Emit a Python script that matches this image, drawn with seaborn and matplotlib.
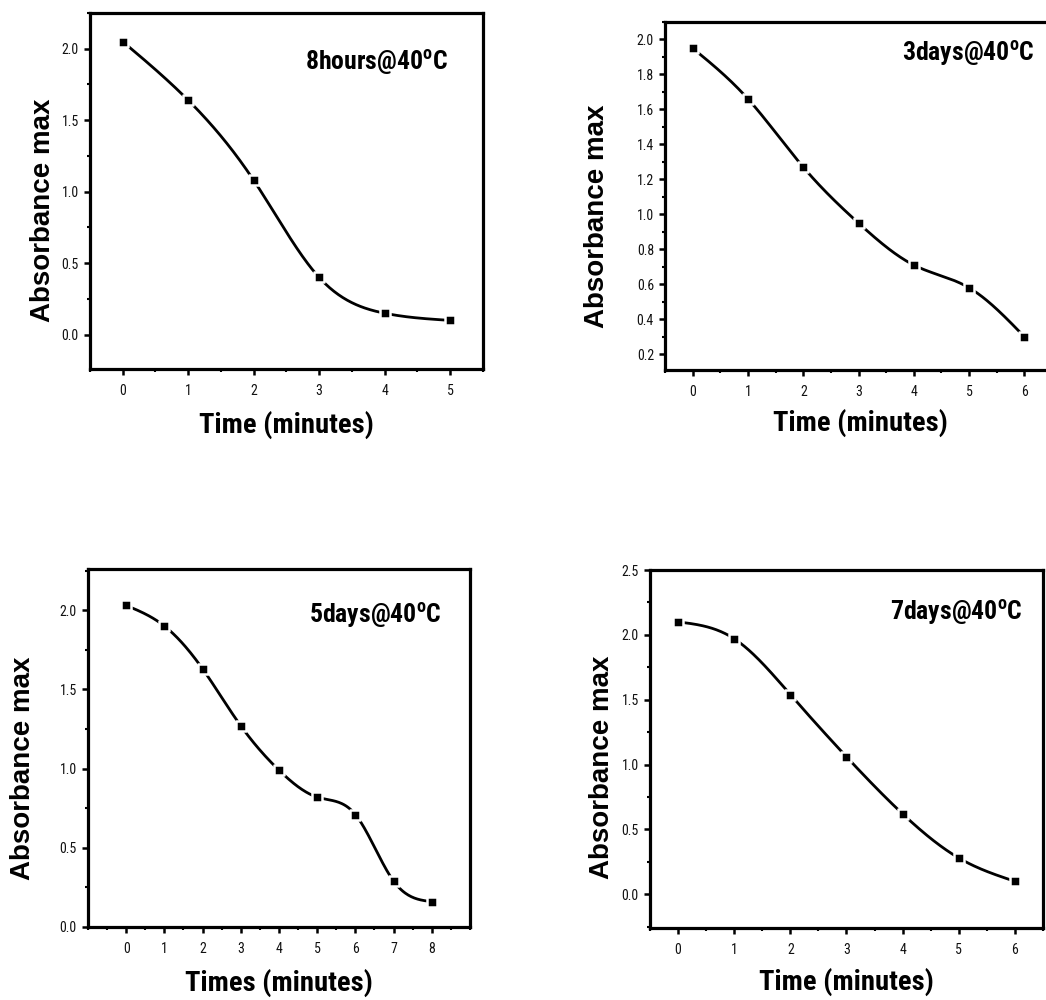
import numpy as np
import pandas as pd
import matplotlib
matplotlib.use("Agg")
import matplotlib.pyplot as plt
from matplotlib.ticker import MultipleLocator
import seaborn as sns

# Absorbance maxima versus time for each storage condition
time_8h = [0, 1, 2, 3, 4, 5]
abs_8h = [2.05, 1.64, 1.08, 0.40, 0.15, 0.10]

time_3d = [0, 1, 2, 3, 4, 5, 6]
abs_3d = [1.95, 1.66, 1.27, 0.95, 0.71, 0.58, 0.30]

time_5d = [0, 1, 2, 3, 4, 5, 6, 7, 8]
abs_5d = [2.03, 1.90, 1.63, 1.27, 0.99, 0.82, 0.71, 0.29, 0.16]

time_7d = [0, 1, 2, 3, 4, 5, 6]
abs_7d = [2.10, 1.97, 1.54, 1.06, 0.62, 0.28, 0.10]

titles = ["8hours@40", "3days@40", "5days@40", "7days@40"]
xlabels = ["Time (minutes)", "Time (minutes)", "Times (minutes)", "Time (minutes)"]
ylabel = "Absorbance max"

sns.set_theme(style="white")
narrow = ["Liberation Sans Narrow", "Roboto Condensed", "Liberation Sans", "DejaVu Sans"]
plt.rcParams["font.family"] = narrow
plt.rcParams["mathtext.fontset"] = "custom"
plt.rcParams["mathtext.bf"] = "Roboto Condensed:bold"
plt.rcParams["mathtext.rm"] = "Roboto Condensed"
plt.rcParams["text.color"] = "black"
plt.rcParams["axes.labelcolor"] = "black"
plt.rcParams["xtick.color"] = "black"
plt.rcParams["ytick.color"] = "black"


def natural_spline(x, y, n=300):
    """Natural cubic spline through (x, y) for a smooth connecting line."""
    x = np.asarray(x, float)
    y = np.asarray(y, float)
    m = len(x)
    h = np.diff(x)
    A = np.zeros((m, m))
    b = np.zeros(m)
    A[0, 0] = A[-1, -1] = 1.0
    for i in range(1, m - 1):
        A[i, i - 1] = h[i - 1]
        A[i, i] = 2 * (h[i - 1] + h[i])
        A[i, i + 1] = h[i]
        b[i] = 6 * ((y[i + 1] - y[i]) / h[i] - (y[i] - y[i - 1]) / h[i - 1])
    M = np.linalg.solve(A, b)
    xs = np.linspace(x[0], x[-1], n)
    idx = np.clip(np.searchsorted(x, xs) - 1, 0, m - 2)
    x0, x1 = x[idx], x[idx + 1]
    hh = x1 - x0
    t0 = x1 - xs
    t1 = xs - x0
    ys = (M[idx] * t0 ** 3 / (6 * hh) + M[idx + 1] * t1 ** 3 / (6 * hh)
          + (y[idx] / hh - M[idx] * hh / 6) * t0
          + (y[idx + 1] / hh - M[idx + 1] * hh / 6) * t1)
    return xs, ys


fig = plt.figure(figsize=(10.46, 10.0), dpi=100)

panels = [
    dict(rect=[0.0860, 0.631, 0.3757, 0.356], x=time_8h, y=abs_8h,
         xlim=(-0.5, 5.5), ylim=(-0.24, 2.25), ymaj=0.5, ymin=0.25,
         fmt="{:.1f}", title_pos=(0.911, 0.862), ylab=(-0.12, 0.447), xlab=(0.501, -0.157)),
    dict(rect=[0.6358, 0.630, 0.370, 0.348], x=time_3d, y=abs_3d,
         xlim=(-0.5, 6.5), ylim=(0.11, 2.10), ymaj=0.2, ymin=0.1,
         fmt="{:.1f}", title_pos=(0.956, 0.911), ylab=(-0.176, 0.443), xlab=(0.504, -0.152)),
    dict(rect=[0.0841, 0.073, 0.3652, 0.358], x=time_5d, y=abs_5d,
         xlim=(-1.0, 9.0), ylim=(0.0, 2.26), ymaj=0.5, ymin=0.25,
         fmt="{:.1f}", title_pos=(0.927, 0.872), ylab=(-0.170, 0.444), xlab=(0.50, -0.156)),
    dict(rect=[0.6214, 0.072, 0.3757, 0.358], x=time_7d, y=abs_7d,
         xlim=(-0.5, 6.5), ylim=(-0.26, 2.5), ymaj=0.5, ymin=0.25,
         fmt="{:.1f}", title_pos=(0.947, 0.883), ylab=(-0.122, 0.45), xlab=(0.499, -0.151)),
]

for p, title, xl in zip(panels, titles, xlabels):
    ax = fig.add_axes(p["rect"])
    xs, ys = natural_spline(p["x"], p["y"])
    curve = pd.DataFrame({"t": xs, "a": ys})
    pts = pd.DataFrame({"t": p["x"], "a": p["y"]})
    sns.lineplot(data=curve, x="t", y="a", ax=ax, color="black", linewidth=2.0,
                 sort=False, zorder=2)
    sns.scatterplot(data=pts, x="t", y="a", ax=ax, marker="s", color="black",
                    s=50, edgecolor="white", linewidth=1.8, zorder=3, clip_on=False)

    ax.set_xlim(*p["xlim"])
    ax.set_ylim(*p["ylim"])
    ax.xaxis.set_major_locator(MultipleLocator(1))
    ax.xaxis.set_minor_locator(MultipleLocator(0.5))
    ax.yaxis.set_major_locator(MultipleLocator(p["ymaj"]))
    ax.yaxis.set_minor_locator(MultipleLocator(p["ymin"]))
    ax.set_xticks([v for v in ax.get_xticks() if 0 <= v <= max(p["x"])])
    ax.set_xticklabels([str(int(v)) for v in ax.get_xticks()])
    yt = [v for v in np.arange(0, 3.01, p["ymaj"]) if p["ylim"][0] <= v + 1e-9 <= p["ylim"][1] + 1e-9]
    ax.set_yticks(yt)
    ax.set_yticklabels([p["fmt"].format(v) for v in yt])

    for s in ax.spines.values():
        s.set_visible(True)
        s.set_linewidth(2.3)
        s.set_color("black")
    ax.tick_params(axis="both", which="major", direction="out", length=4, width=1.8,
                   color="black", labelsize=10, labelcolor="#111111")
    ax.tick_params(axis="both", which="minor", direction="out", length=2, width=1.5,
                   color="black")
    ax.tick_params(axis="x", which="both", bottom=True, top=False, pad=7)
    ax.tick_params(axis="y", which="both", left=True, right=False, pad=4)

    ax.set_xlabel(xl, fontsize=20.5, fontweight="bold", family=narrow, color="black")
    ax.xaxis.label.set_va("center")
    ax.xaxis.set_label_coords(*p["xlab"])
    ax.set_ylabel(ylabel, fontsize=20, fontweight="bold", color="black",
                  family=["Liberation Sans", "Arial", "DejaVu Sans"])
    ax.yaxis.label.set_va("center")
    ax.yaxis.set_label_coords(*p["ylab"])

    ax.text(p["title_pos"][0], p["title_pos"][1], title + r"$^{\mathbf{o}}$C",
            transform=ax.transAxes, ha="right", va="center", color="black",
            fontsize=18.5, fontweight="bold", family=narrow)

fig.savefig("out.png", dpi=100, facecolor="white")
